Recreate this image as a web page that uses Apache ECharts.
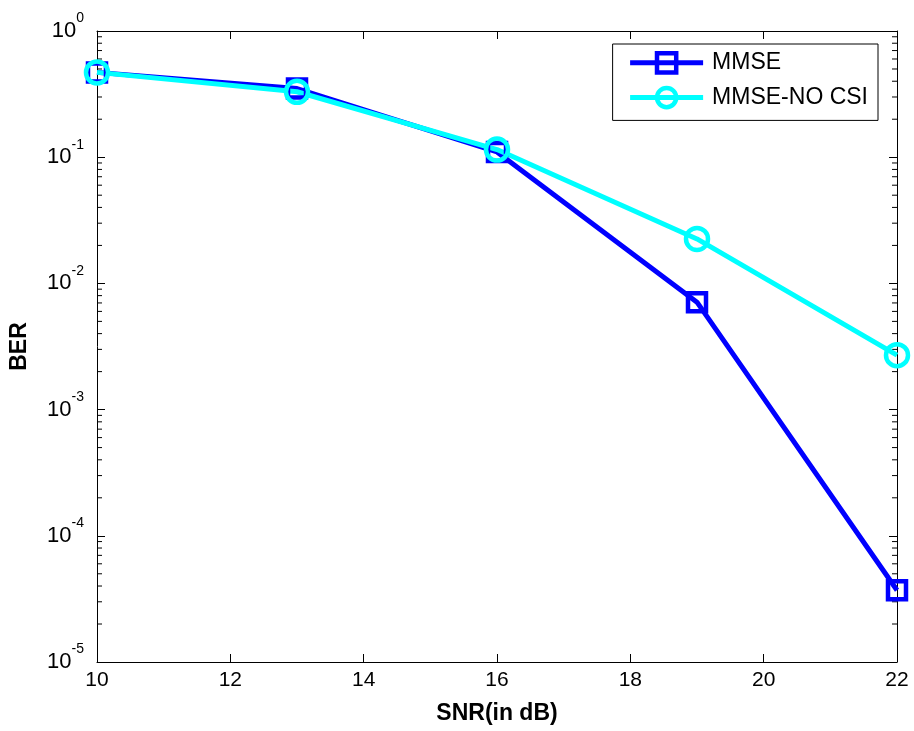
<!DOCTYPE html>
<html>
<head>
<meta charset="utf-8">
<script src="https://cdn.jsdelivr.net/npm/echarts@6/dist/echarts.min.js"></script>
<style>
  html, body { margin: 0; padding: 0; background: #fff; }
  #chart { width: 914px; height: 731px; }
</style>
</head>
<body>
<div id="chart"></div>
<script>
// SNR points (dB)
const snr = [10, 13, 16, 19, 22]
// BER
const berMmse = [0.47, 0.35, 0.11, 0.0071, 0.000037]
const berNoCsi = [0.47, 0.33, 0.115, 0.0225, 0.0027]
const xTicks = [10, 12, 14, 16, 18, 20, 22]
const decades = [1e-5, 1e-4, 1e-3, 1e-2, 1e-1]
const minorSteps = [2, 3, 4, 5, 6, 7, 8, 9]

const FONT = 'Liberation Sans, Arial, sans-serif'
const BLUE = '#0000ff'
const CYAN = '#00ffff'

// minor ticks of the log axis (2..9 times each decade)
const minorTicks = []
decades.forEach(d => minorSteps.forEach(k => minorTicks.push(k * d)))

const chart = echarts.init(document.getElementById('chart'))

function supLabel(v) {
  const e = Math.round(Math.log10(v))
  return '{b|10}{s|' + e + '}'
}

const richY = {
  b: { fontSize: 22, fontFamily: FONT, color: '#000', verticalAlign: 'middle' },
  s: { fontSize: 14, fontFamily: FONT, color: '#000', verticalAlign: 'middle', padding: [0, 0, 25, 0] }
}

const option = {
  animation: false,
  backgroundColor: '#fff',
  grid: { left: 97, right: 17, top: 31, bottom: 69, containLabel: false },
  legend: {
    data: ['MMSE', 'MMSE-NO CSI'],
    orient: 'vertical',
    right: 36,
    top: 44,
    itemWidth: 73,
    itemHeight: 24,
    itemGap: 11,
    padding: [7, 10, 11, 15],
    borderColor: '#000',
    borderWidth: 1,
    borderRadius: 0,
    backgroundColor: '#fff',
    lineStyle: { width: 5 },
    itemStyle: { borderWidth: 4.5 },
    textStyle: { fontSize: 23, fontFamily: FONT, color: '#000', padding: [0, 0, 0, 4] }
  },
  xAxis: [
    {
      type: 'value',
      min: 10,
      max: 22,
      interval: 2,
      name: 'SNR(in dB)',
      nameLocation: 'middle',
      nameGap: 40,
      nameTextStyle: { fontSize: 23, fontWeight: 'bold', fontFamily: FONT, color: '#000' },
      axisLine: { lineStyle: { color: '#000', width: 1 } },
      axisTick: { inside: true, length: 8, lineStyle: { color: '#000' } },
      axisLabel: { fontSize: 21, fontFamily: FONT, color: '#000', margin: 8 },
      splitLine: { show: false }
    },
    {
      type: 'value',
      position: 'top',
      min: 10,
      max: 22,
      interval: 2,
      axisLine: { lineStyle: { color: '#000', width: 1 } },
      axisTick: { inside: true, length: 8, lineStyle: { color: '#000' } },
      axisLabel: { show: false },
      splitLine: { show: false }
    }
  ],
  yAxis: [
    {
      type: 'log',
      min: 1e-5,
      max: 1,
      logBase: 10,
      name: 'BER',
      nameLocation: 'middle',
      nameGap: 66,
      nameTextStyle: { fontSize: 23, fontWeight: 'bold', fontFamily: FONT, color: '#000' },
      axisLine: { lineStyle: { color: '#000', width: 1 } },
      axisTick: { inside: true, length: 8, lineStyle: { color: '#000' } },
      axisLabel: { formatter: supLabel, rich: richY, margin: 13 },
      splitLine: { show: false }
    },
    {
      type: 'log',
      position: 'right',
      min: 1e-5,
      max: 1,
      logBase: 10,
      axisLine: { lineStyle: { color: '#000', width: 1 } },
      axisTick: { inside: true, length: 8, lineStyle: { color: '#000' } },
      axisLabel: { show: false },
      splitLine: { show: false }
    }
  ],
  series: [
    {
      name: 'minor',
      type: 'custom',
      silent: true,
      data: minorTicks.map(v => [10, v]),
      renderItem(params, api) {
        const y = api.coord([10, api.value(1)])[1]
        const cs = params.coordSys
        return {
          type: 'group',
          children: [
            { type: 'line', shape: { x1: cs.x, y1: y, x2: cs.x + 5, y2: y }, style: { stroke: '#000', lineWidth: 1 } },
            { type: 'line', shape: { x1: cs.x + cs.width - 5, y1: y, x2: cs.x + cs.width, y2: y }, style: { stroke: '#000', lineWidth: 1 } }
          ]
        }
      }
    },
    {
      name: 'MMSE',
      type: 'line',
      data: snr.map((x, i) => [x, berMmse[i]]),
      symbol: 'rect',
      symbolSize: 18,
      lineStyle: { width: 5, color: BLUE },
      itemStyle: { color: 'rgba(0,0,0,0)', borderWidth: 4.5, borderColor: BLUE }
    },
    {
      name: 'MMSE-NO CSI',
      type: 'line',
      data: snr.map((x, i) => [x, berNoCsi[i]]),
      symbol: 'circle',
      symbolSize: 22,
      lineStyle: { width: 5, color: CYAN },
      itemStyle: { color: 'rgba(0,0,0,0)', borderWidth: 4.5, borderColor: CYAN }
    }
  ]
}

chart.setOption(option)
</script>
</body>
</html>
